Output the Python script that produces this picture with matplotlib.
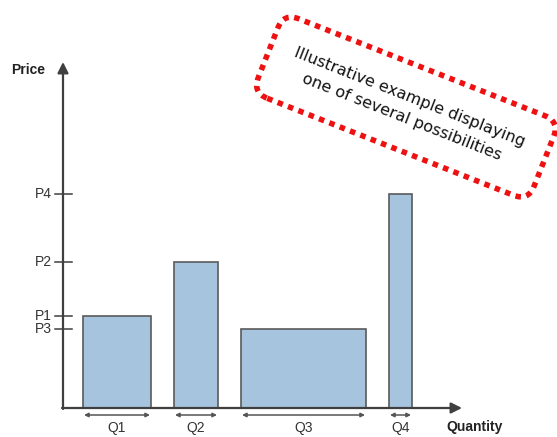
import matplotlib
matplotlib.use("Agg")
import matplotlib.pyplot as plt
import numpy as np

# Data
quantity_labels = ["Q1", "Q2", "Q3", "Q4"]
quantities = [68, 44, 125, 23]
price_labels = ["P1", "P2", "P3", "P4"]
prices = [92, 146, 79, 214]

W, H = 557, 437
fig = plt.figure(figsize=(W / 100, H / 100), dpi=100)
ax = fig.add_axes([0, 0, 1, 1])
ax.set_xlim(-63, W - 63)
ax.set_ylim(-(H - 408), 408)
ax.axis("off")

font = "Liberation Sans"
bar_color = "#A7C4DF"
edge_color = "#5a5a5a"
axis_color = "#3f3f3f"

# bar positions
start, gap = 20, 23
lefts = []
x = start
for q in quantities:
    lefts.append(x)
    x += q + gap

ax.bar(lefts, prices, width=quantities, align="edge", color=bar_color,
       edgecolor=edge_color, linewidth=1.2, zorder=2)

# axes arrows
ax.annotate("", xy=(0, 346), xytext=(0, -1),
            arrowprops=dict(arrowstyle="-|>", mutation_scale=16, color=axis_color,
                            lw=1.6, shrinkA=0, shrinkB=0), zorder=3)
ax.annotate("", xy=(399, 0), xytext=(-1, 0),
            arrowprops=dict(arrowstyle="-|>", mutation_scale=16, color=axis_color,
                            lw=1.6, shrinkA=0, shrinkB=0), zorder=3)

# price ticks
for lbl, p in zip(price_labels, prices):
    ax.plot([-8, 9], [p, p], color=axis_color, lw=1.1, zorder=3)
    ax.text(-11, p, lbl, ha="right", va="center", fontsize=10,
            family=font, color="#333333")

# quantity brackets
for lbl, l, q in zip(quantity_labels, lefts, quantities):
    ax.annotate("", xy=(l + q - 1, -7), xytext=(l + 1, -7),
                arrowprops=dict(arrowstyle="<|-|>", mutation_scale=6,
                                color="#555555", lw=1.1, shrinkA=0, shrinkB=0))
    ax.text(l + q / 2, -20, lbl, ha="center", va="center", fontsize=10,
            family=font, color="#333333")

ax.text(-35, 338, "Price", ha="center", va="center", fontsize=10,
        fontweight="bold", family=font, color="#222222")
ax.text(412, -19, "Quantity", ha="center", va="center", fontsize=10,
        fontweight="bold", family=font, color="#222222")

ax.text(343, 301, "Illustrative example displaying\none of several possibilities",
        ha="center", va="center", rotation=-21.5, rotation_mode="anchor",
        fontsize=11.5, family="DejaVu Sans", color="#111111", linespacing=1.5,
        bbox=dict(boxstyle="round,pad=1.55,rounding_size=1.0", fc="white",
                  ec="#ee1111", lw=4, ls=(0, (1, 1))), zorder=5)

fig.savefig("out.png", dpi=100)
